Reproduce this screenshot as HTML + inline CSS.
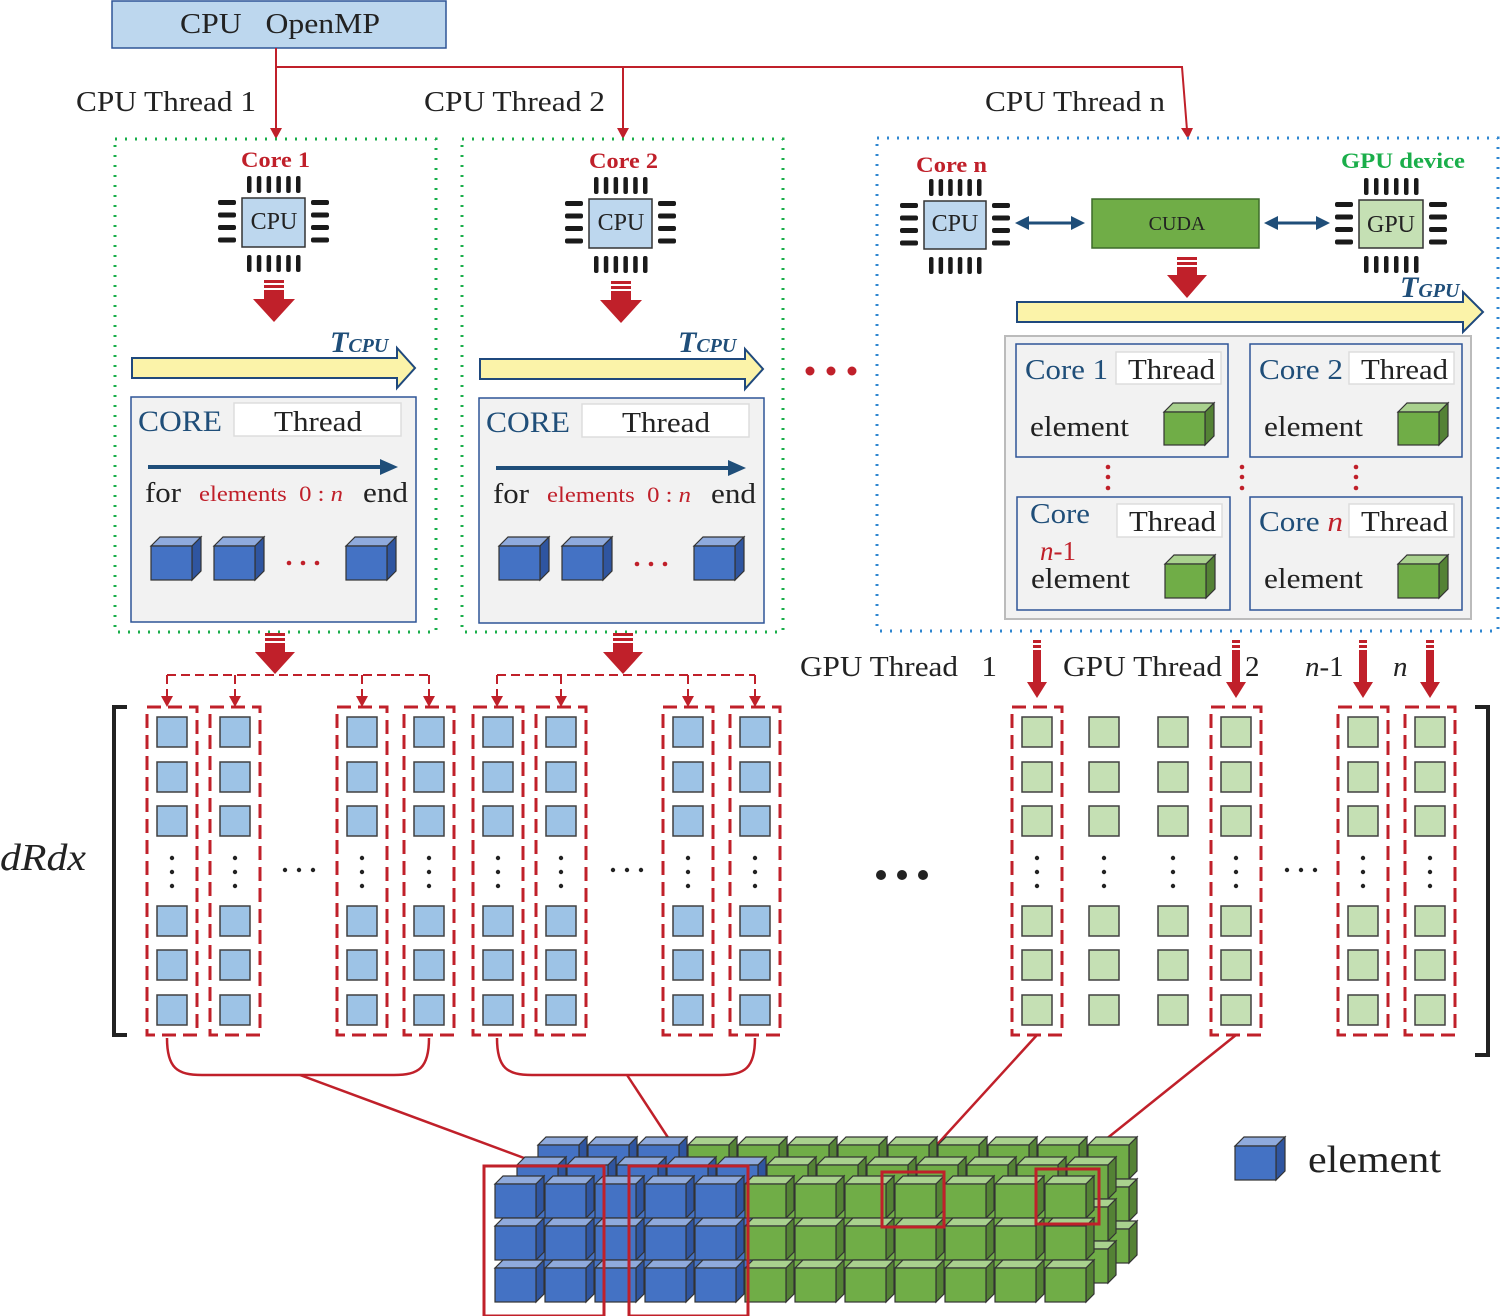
<!DOCTYPE html>
<html><head><meta charset="utf-8"><style>
html,body{margin:0;padding:0;background:#fff;}
svg{display:block;}
text{font-family:"Liberation Serif",serif;}
</style></head><body>
<svg id="s" width="1500" height="1316" viewBox="0 0 1500 1316" xmlns="http://www.w3.org/2000/svg">
<!-- top -->
<rect x="112" y="1" width="334" height="47" fill="#bdd7ee" stroke="#2e5597" stroke-width="1.5"/>
<text x="180" y="33" font-size="28" textLength="200" lengthAdjust="spacingAndGlyphs" fill="#222">CPU&#160;&#160;&#160;OpenMP</text>
<g stroke="#c0202a" stroke-width="2" fill="none">
<path d="M276 48 V130"/><path d="M276 67 H1182 L1187 130"/><path d="M623 67 V130"/>
</g>
<path d="M270 128 L282 128 L276 139z M617 128 L629 128 L623 139z M1181 128 L1193 128 L1188 139z" fill="#c0202a"/>
<text x="76" y="111" font-size="29" textLength="180" lengthAdjust="spacingAndGlyphs" fill="#222">CPU Thread 1</text>
<text x="424" y="111" font-size="29" textLength="181" lengthAdjust="spacingAndGlyphs" fill="#222">CPU Thread 2</text>
<text x="985" y="111" font-size="29" textLength="180" lengthAdjust="spacingAndGlyphs" fill="#222">CPU Thread n</text>

<rect x="115" y="139" width="321" height="493" fill="none" stroke="#1aae4a" stroke-width="3" stroke-dasharray="2 8"/>
<rect x="462" y="139" width="321" height="493" fill="none" stroke="#1aae4a" stroke-width="3" stroke-dasharray="2 8"/>
<rect x="877" y="138" width="621" height="493" fill="none" stroke="#2e86d0" stroke-width="3" stroke-dasharray="2 8"/>

<text x="241" y="167" font-size="22" font-weight="bold" textLength="69" lengthAdjust="spacingAndGlyphs" fill="#c0202a">Core 1</text>
<text x="589" y="168" font-size="22" font-weight="bold" textLength="69" lengthAdjust="spacingAndGlyphs" fill="#c0202a">Core 2</text>
<text x="916" y="172" font-size="22" font-weight="bold" textLength="71" lengthAdjust="spacingAndGlyphs" fill="#c0202a">Core n</text>
<text x="1341" y="168" font-size="22" font-weight="bold" textLength="124" lengthAdjust="spacingAndGlyphs" fill="#1aae4a">GPU device</text>

<g id="chips"></g>
<text x="274" y="229" font-size="24" text-anchor="middle" fill="#222">CPU</text>
<text x="621" y="230" font-size="24" text-anchor="middle" fill="#222">CPU</text>
<text x="955" y="231" font-size="24" text-anchor="middle" fill="#222">CPU</text>
<text x="1391" y="232" font-size="24" text-anchor="middle" fill="#222">GPU</text>

<rect x="1092" y="199" width="167" height="49" fill="#70ad47" stroke="#3d6b2a" stroke-width="1.5"/>
<text x="1177" y="230" font-size="20" text-anchor="middle" fill="#222">CUDA</text>
<g id="dyn"></g>

<!-- T labels -->
<text x="330" y="352" font-size="30" font-weight="bold" font-style="italic" fill="#1f4e79">T<tspan font-size="20">CPU</tspan></text>
<text x="678" y="352" font-size="30" font-weight="bold" font-style="italic" fill="#1f4e79">T<tspan font-size="20">CPU</tspan></text>
<text x="1400" y="297" font-size="30" font-weight="bold" font-style="italic" fill="#1f4e79">T<tspan font-size="20">GPU</tspan></text>

<!-- CPU panels -->
<g>
<rect x="131" y="397" width="285" height="225" fill="#f2f2f2" stroke="#2e5597" stroke-width="1.5"/>
<rect x="234" y="403" width="167" height="33" fill="#fff" stroke="#ddd" stroke-width="1.5"/>
<text x="138" y="431" font-size="30" textLength="84" lengthAdjust="spacingAndGlyphs" fill="#1f4e79">CORE</text>
<text x="274" y="431" font-size="29" textLength="88" lengthAdjust="spacingAndGlyphs" fill="#222">Thread</text>
<path d="M148 467 H385" stroke="#1f4e79" stroke-width="4"/><path d="M380 459 L398 467 L380 475z" fill="#1f4e79"/>
<text x="145" y="502" font-size="29" textLength="36" lengthAdjust="spacingAndGlyphs" fill="#222">for</text>
<text x="199" y="501" font-size="22" textLength="144" lengthAdjust="spacingAndGlyphs" fill="#c0202a">elements&#160;&#160;0 : <tspan font-style="italic">n</tspan></text>
<text x="363" y="502" font-size="29" textLength="45" lengthAdjust="spacingAndGlyphs" fill="#222">end</text>
<circle cx="289" cy="563" r="2.3" fill="#c0202a"/><circle cx="303" cy="563" r="2.3" fill="#c0202a"/><circle cx="317" cy="563" r="2.3" fill="#c0202a"/>
</g>
<g transform="translate(348,1)">
<rect x="131" y="397" width="285" height="225" fill="#f2f2f2" stroke="#2e5597" stroke-width="1.5"/>
<rect x="234" y="403" width="167" height="33" fill="#fff" stroke="#ddd" stroke-width="1.5"/>
<text x="138" y="431" font-size="30" textLength="84" lengthAdjust="spacingAndGlyphs" fill="#1f4e79">CORE</text>
<text x="274" y="431" font-size="29" textLength="88" lengthAdjust="spacingAndGlyphs" fill="#222">Thread</text>
<path d="M148 467 H385" stroke="#1f4e79" stroke-width="4"/><path d="M380 459 L398 467 L380 475z" fill="#1f4e79"/>
<text x="145" y="502" font-size="29" textLength="36" lengthAdjust="spacingAndGlyphs" fill="#222">for</text>
<text x="199" y="501" font-size="22" textLength="144" lengthAdjust="spacingAndGlyphs" fill="#c0202a">elements&#160;&#160;0 : <tspan font-style="italic">n</tspan></text>
<text x="363" y="502" font-size="29" textLength="45" lengthAdjust="spacingAndGlyphs" fill="#222">end</text>
<circle cx="289" cy="563" r="2.3" fill="#c0202a"/><circle cx="303" cy="563" r="2.3" fill="#c0202a"/><circle cx="317" cy="563" r="2.3" fill="#c0202a"/>
</g>
<circle cx="810" cy="371" r="4.5" fill="#c0202a"/><circle cx="831" cy="371" r="4.5" fill="#c0202a"/><circle cx="852" cy="371" r="4.5" fill="#c0202a"/>

<!-- GPU panel -->
<rect x="1005" y="336" width="466" height="283" fill="#f2f2f2" stroke="#bbb" stroke-width="2"/>
<rect x="1016" y="344" width="212" height="113" fill="#f2f2f2" stroke="#2e5597" stroke-width="1.5"/>
<rect x="1250" y="344" width="212" height="113" fill="#f2f2f2" stroke="#2e5597" stroke-width="1.5"/>
<rect x="1017" y="497" width="213" height="113" fill="#f2f2f2" stroke="#2e5597" stroke-width="1.5"/>
<rect x="1250" y="497" width="212" height="113" fill="#f2f2f2" stroke="#2e5597" stroke-width="1.5"/>
<rect x="1116" y="352" width="105" height="32" fill="#fff" stroke="#ddd" stroke-width="1.5"/>
<rect x="1349" y="352" width="105" height="32" fill="#fff" stroke="#ddd" stroke-width="1.5"/>
<rect x="1117" y="504" width="105" height="33" fill="#fff" stroke="#ddd" stroke-width="1.5"/>
<rect x="1349" y="504" width="105" height="33" fill="#fff" stroke="#ddd" stroke-width="1.5"/>
<text x="1025" y="379" font-size="29" textLength="83" lengthAdjust="spacingAndGlyphs" fill="#1f4e79">Core 1</text>
<text x="1259" y="379" font-size="29" textLength="84" lengthAdjust="spacingAndGlyphs" fill="#1f4e79">Core 2</text>
<text x="1030" y="523" font-size="29" textLength="60" lengthAdjust="spacingAndGlyphs" fill="#1f4e79">Core</text>
<text x="1259" y="531" font-size="29" textLength="84" lengthAdjust="spacingAndGlyphs" fill="#1f4e79">Core <tspan fill="#c0202a" font-style="italic">n</tspan></text>
<text x="1128" y="379" font-size="29" textLength="87" lengthAdjust="spacingAndGlyphs" fill="#222">Thread</text>
<text x="1361" y="379" font-size="29" textLength="87" lengthAdjust="spacingAndGlyphs" fill="#222">Thread</text>
<text x="1129" y="531" font-size="29" textLength="87" lengthAdjust="spacingAndGlyphs" fill="#222">Thread</text>
<text x="1361" y="531" font-size="29" textLength="87" lengthAdjust="spacingAndGlyphs" fill="#222">Thread</text>
<text x="1040" y="560" font-size="27" fill="#c0202a"><tspan font-style="italic">n</tspan>-1</text>
<text x="1030" y="436" font-size="29" textLength="99" lengthAdjust="spacingAndGlyphs" fill="#222">element</text>
<text x="1264" y="436" font-size="29" textLength="99" lengthAdjust="spacingAndGlyphs" fill="#222">element</text>
<text x="1031" y="588" font-size="29" textLength="99" lengthAdjust="spacingAndGlyphs" fill="#222">element</text>
<text x="1264" y="588" font-size="29" textLength="99" lengthAdjust="spacingAndGlyphs" fill="#222">element</text>
<g fill="#c0202a">
<circle cx="1108" cy="467" r="2.3"/><circle cx="1108" cy="477" r="2.3"/><circle cx="1108" cy="488" r="2.3"/>
<circle cx="1242" cy="467" r="2.3"/><circle cx="1242" cy="477" r="2.3"/><circle cx="1242" cy="488" r="2.3"/>
<circle cx="1356" cy="467" r="2.3"/><circle cx="1356" cy="477" r="2.3"/><circle cx="1356" cy="488" r="2.3"/>
</g>
<g id="cubes"></g>

<!-- labels middle -->
<text x="0" y="870" font-size="38" font-style="italic" textLength="86" lengthAdjust="spacingAndGlyphs" fill="#222">dRdx</text>
<text x="800" y="676" font-size="29" textLength="197" lengthAdjust="spacingAndGlyphs" fill="#222">GPU Thread&#160;&#160;&#160;1</text>
<text x="1063" y="676" font-size="29" textLength="159" lengthAdjust="spacingAndGlyphs" fill="#222">GPU Thread</text>
<text x="1245" y="676" font-size="29" fill="#222">2</text>
<text x="1305" y="676" font-size="29" fill="#222"><tspan font-style="italic">n</tspan>-1</text>
<text x="1393" y="676" font-size="29" font-style="italic" fill="#222">n</text>
<circle cx="881" cy="875" r="5" fill="#222"/><circle cx="902" cy="875" r="5" fill="#222"/><circle cx="923" cy="875" r="5" fill="#222"/>
<path d="M127 707 H114 V1035 H127" fill="none" stroke="#222" stroke-width="4"/>
<path d="M1475 707 H1488 V1055 H1475" fill="none" stroke="#222" stroke-width="4"/>

<g id="mat"></g>
<g id="block"></g>
<text x="1308" y="1172" font-size="38" textLength="133" lengthAdjust="spacingAndGlyphs" fill="#222">element</text>
</svg>
<script>
var NS="http://www.w3.org/2000/svg";
function el(p,t,a){var e=document.createElementNS(NS,t);for(var k in a)e.setAttribute(k,a[k]);p.appendChild(e);return e;}
var chips=document.getElementById('chips'),dyn=document.getElementById('dyn'),mat=document.getElementById('mat'),blk=document.getElementById('block'),cbs=document.getElementById('cubes');
function chip(x0,y0,x1,y1,fill){
  el(chips,'rect',{x:x0,y:y0,width:x1-x0,height:y1-y0,fill:fill,stroke:'#333','stroke-width':1.5});
  var w=x1-x0, px0=x0+5, step=(w-14)/5;
  for(var i=0;i<6;i++){var px=px0+i*step;
    el(chips,'rect',{x:px,y:y0-22,width:4.5,height:17,rx:2,fill:'#1a1a1a'});
    el(chips,'rect',{x:px,y:y1+8,width:4.5,height:17,rx:2,fill:'#1a1a1a'});}
  for(var j=0;j<4;j++){var py=y0+2+j*12.5;
    el(chips,'rect',{x:x0-24,y:py,width:18,height:5,rx:2,fill:'#1a1a1a'});
    el(chips,'rect',{x:x1+6,y:py,width:18,height:5,rx:2,fill:'#1a1a1a'});}
}
chip(242,198,305,247,'#bdd7ee');chip(589,199,652,248,'#bdd7ee');chip(924,201,986,249,'#bdd7ee');chip(1359,200,1423,248,'#c5e0b4');
function fat(p,cx,y0,hy,tip,sw,hw){
  el(p,'rect',{x:cx-sw/2,y:y0,width:sw,height:3,fill:'#c0202a'});
  el(p,'rect',{x:cx-sw/2,y:y0+5,width:sw,height:3,fill:'#c0202a'});
  el(p,'rect',{x:cx-sw/2,y:y0+10,width:sw,height:hy-y0-9,fill:'#c0202a'});
  el(p,'path',{d:'M'+(cx-hw/2)+' '+hy+' L'+(cx+hw/2)+' '+hy+' L'+cx+' '+tip+'z',fill:'#c0202a'});
}
fat(dyn,274,280,299,322,20,42);fat(dyn,621,281,300,323,20,42);fat(dyn,1187,257,275,298,20,40);
fat(dyn,275,633,652,674,20,40);fat(dyn,623,633,652,674,20,40);
[1037,1236,1363,1430].forEach(function(c){fat(dyn,c,640,682,698,8,20);});
function yarrow(x0,x1,yc,bh,hh,hx){
  el(dyn,'path',{d:'M'+x0+' '+(yc-bh/2)+' H'+hx+' V'+(yc-hh/2)+' L'+x1+' '+yc+' L'+hx+' '+(yc+hh/2)+' V'+(yc+bh/2)+' H'+x0+'z',fill:'#fbf3a9',stroke:'#1f497d','stroke-width':2});
}
yarrow(132,415,368,20,40,397);yarrow(480,763,369,20,40,745);yarrow(1017,1483,312,20,40,1463);
function dbl(x0,x1,y){
  el(dyn,'path',{d:'M'+(x0+12)+' '+y+' H'+(x1-12),stroke:'#1f4e79','stroke-width':3});
  el(dyn,'path',{d:'M'+x0+' '+y+' l14 -7 v14z M'+x1+' '+y+' l-14 -7 v14z',fill:'#1f4e79'});
}
dbl(1015,1085,223);dbl(1264,1330,223);
var B={f:'#4472c4',t:'#8faadc',s:'#2f55a0'},G={f:'#70ad47',t:'#a9d18e',s:'#548235'};
function cube(p,x,y,w,h,d,c){
  el(p,'path',{d:'M'+x+' '+y+' l'+d+' '+(-d)+' h'+w+' l'+(-d)+' '+d+'z',fill:c.t,stroke:'#333','stroke-width':1.2});
  el(p,'path',{d:'M'+(x+w)+' '+y+' l'+d+' '+(-d)+' v'+h+' l'+(-d)+' '+d+'z',fill:c.s,stroke:'#333','stroke-width':1.2});
  el(p,'rect',{x:x,y:y,width:w,height:h,fill:c.f,stroke:'#333','stroke-width':1.2});
}
[151,214,346,499,562,694].forEach(function(x){cube(cbs,x,546,41,34,9,B);});
cube(cbs,1164,412,41,33,9,G);cube(cbs,1398,412,41,33,9,G);cube(cbs,1165,564,41,34,9,G);cube(cbs,1398,564,41,34,9,G);
cube(cbs,1235,1146,41,34,9,B);
var rows=[717,762,806,906,950,995];
function col(cx,fill,dash){
  if(dash) el(mat,'rect',{x:cx-25,y:707,width:50,height:328,fill:'none',stroke:'#c0202a','stroke-width':3,'stroke-dasharray':'14 7'});
  rows.forEach(function(y){el(mat,'rect',{x:cx-15,y:y,width:30,height:30,fill:fill,stroke:'#404040','stroke-width':1.5});});
  [858,872,886].forEach(function(y){el(mat,'circle',{cx:cx,cy:y,r:2.2,fill:'#222'});});
}
[172,235,362,429,498,561,688,755].forEach(function(c){col(c,'#9dc3e6',true);});
[1037,1236,1363,1430].forEach(function(c){col(c,'#c5e0b4',true);});
[1104,1173].forEach(function(c){col(c,'#c5e0b4',false);});
[[285,299,313],[613,627,641],[1287,1301,1315]].forEach(function(a){a.forEach(function(x){el(mat,'circle',{cx:x,cy:870,r:2.2,fill:'#222'});});});
function grp(xs){
  el(mat,'path',{d:'M'+xs[0]+' 675 H'+xs[3],fill:'none',stroke:'#c0202a','stroke-width':2,'stroke-dasharray':'9 5'});
  xs.forEach(function(x){el(mat,'path',{d:'M'+x+' 675 V696',fill:'none',stroke:'#c0202a','stroke-width':2,'stroke-dasharray':'9 5'});
    el(mat,'path',{d:'M'+(x-6)+' 696 L'+(x+6)+' 696 L'+x+' 707z',fill:'#c0202a'});});
  var a=xs[0],b=xs[3];
  el(mat,'path',{d:'M'+a+' 1038 C'+a+' 1068 '+(a+10)+' 1075 '+(a+35)+' 1075 H'+(b-35)+' C'+(b-10)+' 1075 '+b+' 1068 '+b+' 1038',fill:'none',stroke:'#c0202a','stroke-width':2.5});
}
grp([167,235,362,429]);grp([497,561,688,755]);
[[300,1075,543,1165],[627,1075,686,1165],[1037,1035,912,1172],[1236,1035,1070,1168]].forEach(function(l){
  el(mat,'line',{x1:l[0],y1:l[1],x2:l[2],y2:l[3],stroke:'#c0202a','stroke-width':2.5});});
var layers=[{dx:43,dy:-39,nb:3},{dx:22,dy:-19,nb:5},{dx:0,dy:0,nb:5}];
layers.forEach(function(Ly){
  for(var r=0;r<3;r++)for(var c=11;c>=0;c--){
    cube(blk,495+Ly.dx+c*50,1184+Ly.dy+r*42,41,34,8,c<Ly.nb?B:G);}
});
[[484,1166,120,150],[629,1166,119,150],[882,1172,62,55],[1036,1169,63,55]].forEach(function(r){
  el(blk,'rect',{x:r[0],y:r[1],width:r[2],height:r[3],fill:'none',stroke:'#c0202a','stroke-width':3});});
</script>
</body></html>
